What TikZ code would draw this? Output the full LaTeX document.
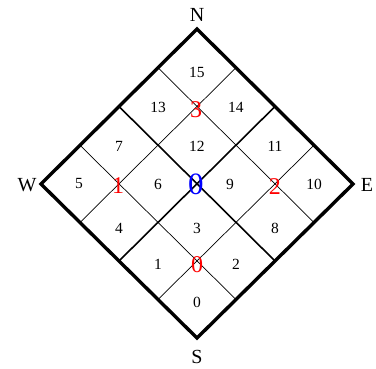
\documentclass[tikz,border=0pt]{standalone}
\usepackage{fontspec}
\setmainfont{Liberation Serif}
\usetikzlibrary{calc}
\begin{document}
\begin{tikzpicture}[x=1pt,y=-1pt,
  border/.style={line width=3.4pt,line join=miter},
  midline/.style={line width=1.6pt},
  thinline/.style={line width=0.7pt},
  num/.style={font=\fontsize{15.5}{15.5}\selectfont,inner sep=0pt},
  rednum/.style={font=\fontsize{24}{24}\selectfont,text=red,inner sep=0pt},
  bluenum/.style={font=\fontsize{31}{31}\selectfont,text=blue,inner sep=0pt},
  dir/.style={font=\fontsize{20}{20}\selectfont,inner sep=0pt}]
\useasboundingbox (0,0) rectangle (376,369);
\coordinate (W) at (41,184);
\coordinate (N) at (197,29);
\coordinate (E) at (353,184);
\coordinate (S) at (197,338);
% edge points
\foreach \k in {1,2,3}{
  \coordinate (wn\k) at ($(W)!\k/4!(N)$);
  \coordinate (se\k) at ($(S)!\k/4!(E)$);
  \coordinate (ws\k) at ($(W)!\k/4!(S)$);
  \coordinate (ne\k) at ($(N)!\k/4!(E)$);
}
% grid lines
\draw[thinline] (wn1) -- (se1);
\draw[thinline] (wn3) -- (se3);
\draw[thinline] (ws1) -- (ne1);
\draw[thinline] (ws3) -- (ne3);
\draw[midline] (wn2) -- (se2);
\draw[midline] (ws2) -- (ne2);
\draw[border] (W) -- (N) -- (E) -- (S) -- cycle;
% compass letters
\node[dir] (lN) at (197,15) {N};
\node[dir] (lS) at (197,357) {S};
\node[dir] (lW) at (27,185) {W};
\node[dir] (lE) at (367,185) {E};
% cell numbers
\node[num] (c15) at (197,72) {15};
\node[num] (c13) at (158,107) {13};
\node[num] (c14) at (236,107) {14};
\node[num] (c7) at (119,146) {7};
\node[num] (c12) at (197,146) {12};
\node[num] (c11) at (275,146) {11};
\node[num] (c5) at (79,184) {5};
\node[num] (c6) at (158,184) {6};
\node[num] (c9) at (230,184) {9};
\node[num] (c10) at (314,184) {10};
\node[num] (c4) at (119,228) {4};
\node[num] (c3) at (197,228) {3};
\node[num] (c8) at (275,228) {8};
\node[num] (c1) at (158,264) {1};
\node[num] (c2) at (236,264) {2};
\node[num] (c0) at (197,302) {0};
% red vertex labels
\node[rednum] (r3) at (196,110) {3};
\node[rednum] (r1) at (118,186) {1};
\node[rednum] (r2) at (275,187) {2};
\node[rednum] (r0) at (197,265) {0};
% blue center label
\node[bluenum] (b0) at (196,184) {0};
\end{tikzpicture}
\end{document}
